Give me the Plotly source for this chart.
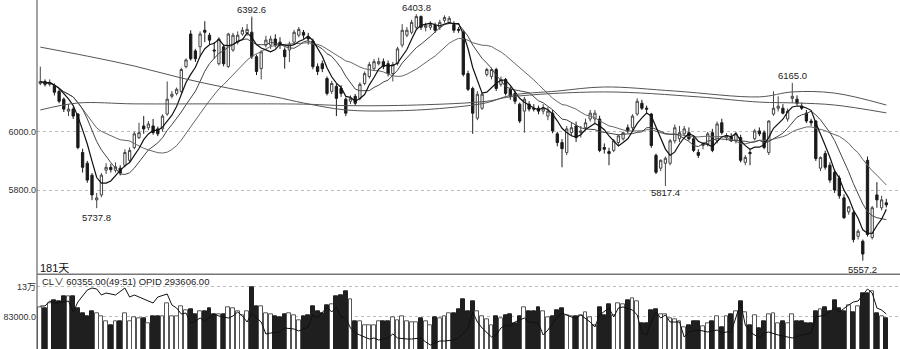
import plotly.graph_objects as go
import pandas as pd

W, H = 900, 349
L_PX = 37

# ---------------- data ----------------
N = 181
idx = list(range(N))

open_ = [6166,6173,6163,6159,6139,6112,6071,6078,6061,5929,5892,5851,5766,5783,5868,5878,5868,5875,5885,5902,
         5946,5980,6020,6014,6020,6010,6010,6061,6122,6132,6139,6224,6336,6278,6292,6349,6332,6281,6234,6292,
         6224,6281,6308,6336,6340,6342,6258,6217,6298,6298,6319,6308,6281,6281,6308,6332,6342,6325,6312,6224,
         6234,6183,6139,6156,6149,6112,6105,6122,6115,6166,6190,6217,6234,6241,6234,6200,6234,6298,6332,6342,
         6359,6396,6359,6359,6366,6359,6383,6376,6369,6352,6342,6200,6149,6047,6081,6197,6190,6214,6163,6180,
         6146,6132,6095,6071,6095,6081,6081,6071,6054,6064,5993,5963,5929,5997,6020,5997,6014,6044,6044,6044,
         5946,5932,5936,5963,5976,6014,6014,6061,6098,6081,6061,5919,5875,5892,5892,5969,5976,5993,5997,5976,
         5929,5953,5959,5997,5969,6031,5980,5983,5969,5980,5895,5929,5976,6003,5997,5929,6061,6081,6081,6044,
         6115,6112,6088,6064,6037,6037,5875,5925,5885,5861,5841,5773,5725,5722,5641,5624,5902,5637,5783,5739,
         5756]
high  = [6224,6180,6180,6166,6146,6118,6095,6085,6064,5942,5900,5858,5790,5858,5892,5890,5895,5885,5940,5946,
         6000,6031,6054,6037,6044,6018,6060,6173,6140,6152,6220,6252,6349,6285,6345,6380,6340,6308,6325,6300,
         6340,6340,6345,6360,6370,6392.6,6265,6280,6330,6330,6335,6325,6290,6310,6350,6360,6350,6340,6320,6235,
         6245,6190,6175,6165,6160,6118,6125,6130,6170,6207,6240,6250,6255,6252,6245,6240,6292,6370,6360,6385,
         6403.8,6400,6375,6380,6375,6385,6400,6398,6380,6360,6350,6210,6155,6140,6135,6220,6220,6220,6190,6185,
         6155,6140,6100,6120,6105,6095,6090,6095,6085,6075,6000,5975,6020,6030,6035,6020,6045,6075,6075,6055,
         5960,5945,5975,5990,6000,6025,6060,6115,6110,6090,6065,5925,5905,5915,5975,6025,6020,6020,6015,5985,
         5940,5965,6000,6010,6035,6045,5995,5995,6000,5990,5920,5940,6010,6015,6005,6040,6139,6122,6095,6080,
         6165,6125,6100,6075,6045,6040,5915,5935,5895,5870,5850,5785,5745,5730,5665,5630,5915,5745,5827,5780,
         5770]
low   = [6160,6156,6156,6125,6098,6068,6054,6044,5940,5860,5825,5765,5737.8,5775,5855,5860,5860,5850,5878,5895,
         5940,5975,5993,6005,5990,5985,6000,6055,6115,6125,6132,6218,6245,6240,6258,6308,6300,6251,6228,6225,
         6220,6275,6300,6330,6330,6250,6195,6180,6290,6285,6290,6285,6217,6240,6300,6325,6320,6300,6215,6195,
         6205,6125,6130,6054,6120,6054,6095,6090,6108,6160,6183,6210,6228,6215,6190,6173,6228,6290,6325,6335,
         6350,6350,6345,6350,6340,6350,6375,6370,6340,6340,6190,6140,5993,6040,6075,6190,6180,6140,6155,6125,
         6110,6095,6030,5997,6070,6070,6060,6060,6040,5995,5950,5878,5920,5985,5965,5980,6005,6035,6030,5930,
         5925,5885,5930,5955,5970,5995,6005,6055,6075,6065,5945,5855,5865,5817.4,5885,5960,5965,5985,5970,5930,
         5910,5940,5950,5930,5960,5990,5970,5965,5960,5895,5885,5885,5970,5985,5940,5920,6055,6070,6060,6035,
         6100,6090,6075,6030,6020,5900,5865,5870,5825,5790,5770,5700,5715,5620,5630,5557.2,5640,5630,5739,5730,
         5740]
close = [6173,6163,6170,6136,6105,6078,6078,6054,5946,5878,5834,5783,5773,5851,5878,5870,5880,5858,5929,5936,
         5993,5997,6010,6027,5997,5993,6054,6112,6129,6146,6214,6247,6251,6251,6336,6342,6315,6278,6319,6234,
         6336,6332,6332,6349,6352,6258,6207,6275,6315,6319,6298,6298,6258,6301,6342,6352,6332,6319,6224,6207,
         6217,6132,6166,6115,6132,6064,6115,6098,6163,6200,6231,6241,6241,6224,6200,6231,6285,6349,6349,6376,
         6396,6359,6366,6369,6349,6376,6393,6390,6349,6349,6197,6146,6064,6129,6129,6214,6214,6149,6180,6132,
         6122,6105,6037,6112,6078,6078,6071,6081,6071,6003,5963,5942,6010,6014,5980,6003,6031,6064,6064,5936,
         5940,5925,5969,5986,5997,6003,6054,6105,6081,6078,5953,5861,5902,5909,5969,6014,5997,6010,5976,5936,
         5919,5959,5993,5936,6027,5997,5986,5969,5993,5902,5912,5925,6003,5993,5946,6037,6081,6088,6064,6071,
         6122,6098,6081,6037,6031,5908,5912,5878,5834,5800,5780,5705,5742,5630,5658,5580,5647,5739,5766,5766,
         5749]

volume = [97100,96200,104000,109200,107600,114300,114300,114300,96200,88300,83000,90800,88300,83000,75200,70000,75200,75200,88300,75200,
          81400,80500,80500,72600,84100,84100,84100,104000,83000,83000,98700,93500,94600,86800,90800,91900,96200,86800,86800,86800,
          97100,96200,90800,85700,90800,128400,99800,99800,88300,86800,83000,81400,86800,88300,85700,77800,84100,85700,99800,90800,
          89000,100500,103000,114300,116800,123300,110700,76300,76300,68900,70000,70000,75200,75200,76300,81400,77800,83000,75200,74100,
          74100,80500,75200,70000,81400,80500,83000,88300,88300,94600,110700,90800,106500,90800,84100,79000,70000,84100,80500,85700,
          86800,72000,84100,97100,90800,90800,97500,90800,81400,83000,93500,96200,85700,83000,83000,85700,90000,81400,70000,97000,
          85700,102400,85700,104000,102400,109200,111800,107000,72600,72600,93500,94600,86800,86800,80500,79000,75200,65800,68900,75200,
          75200,67400,72600,75200,83000,65800,83000,86800,90800,106500,89900,70000,85700,64800,75200,86800,88300,72600,75200,72600,
          86800,75200,75200,72600,72600,90800,94600,97700,90800,109200,96200,90800,101300,89900,99800,119600,119600,122200,88300,83000,
          80500]

# open interest (OPID) line, read at these bar positions
opid_idx = [0,1,2,3,5,6,7,8,10,11,12,13,14,16,18,19,20,22,24,25,27,28,29,30,31,32,33,34,35,37,38,40,41,42,43,44,45,46,47,48,49,51,52,54,55,
            57,58,59,61,62,63,64,65,66,67,68,70,71,72,73,74,75,76,78,79,81,82,83,85,86,88,89,91,92,93,94,96,97,98,99,100,101,103,104,106,107,108,
            110,111,113,114,115,117,118,119,121,122,123,124,126,127,128,129,130,131,132,133,134,136,137,138,140,142,144,145,146,147,149,150,151,
            153,154,155,157,159,160,162,163,164,165,167,169,170,172,173,174,175,176,177,178,179,180]
opid_val = [301600,301600,306600,304600,305600,306600,295600,305600,317600,319600,318600,312600,314600,312600,319600,310600,312600,308600,304600,310600,
            313600,302600,299600,293600,294600,284600,286600,289600,286600,293600,291600,289600,291600,295600,291600,285600,294600,289600,285600,273600,
            274600,275600,279600,278600,276600,
            280600,292600,289600,300600,295600,300600,290600,289600,279600,274600,272600,268600,269600,267600,268600,269600,273600,269600,268600,268600,
            269600,265600,262600,266600,266600,267600,269600,279600,295600,285600,279600,270600,272600,279600,282600,281600,285600,289600,285600,284600,
            272600,277600,
            290600,294600,290600,289600,292600,285600,280600,292600,299600,290600,299600,300600,297600,292600,274600,272600,285600,295600,289600,292600,
            285600,285600,270600,275600,277600,275600,277600,274600,275600,275600,304600,282600,275600,
            269600,274600,275600,272600,270600,269600,272600,273600,274600,290600,292600,299600,295600,302600,305600,306600,312600,318600,314600,299600,
            297600,293606]

# long moving averages, read at these bar positions
ma_a_idx = [0,10,20,30,40,50,56,65,75,85,95,100,110,120,135,153,160,169,180]
ma_a_val = [6291,6260,6226,6185,6150,6120,6099,6075,6072,6080,6100,6125,6140,6154,6140,6120,6137,6133,6092]
ma_b_idx = [0,8,20,40,56,65,80,95,100,120,140,153,161,169,180]
ma_b_val = [6075,6099,6096,6096,6095,6090,6092,6105,6120,6137,6120,6102,6099,6092,6065]

price_ticks = [5800, 6000]
price_tick_text = ["5800.0", "6000.0"]
vol_ticks = [83000, 130000]
vol_tick_text = ["83000.0", "13万"]

highs_marked = [(45, 6392.6, "6392.6", -8), (80, 6403.8, "6403.8", -7), (160, 6165.0, "6165.0", -8)]
lows_marked = [(12, 5737.8, "5737.8", 9), (133, 5817.4, "5817.4", 8), (175, 5557.2, "5557.2", 9)]

# ---------------- figure ----------------
cs = pd.Series(close)
ma5 = cs.rolling(5, min_periods=1).mean()
ma10 = cs.rolling(10, min_periods=1).mean()
ma20 = cs.rolling(20, min_periods=1).mean()

SEP_PX = 274.3
vol_top = (H - SEP_PX) / H

def px_x(px):
    return (px - L_PX) / (W - L_PX)

def px_y(py):
    return (H - py) / H

fig = go.Figure()

fig.add_trace(go.Candlestick(
    x=idx, open=open_, high=high, low=low, close=close,
    increasing=dict(line=dict(color="#444", width=1), fillcolor="#ffffff"),
    decreasing=dict(line=dict(color="#1a1a1a", width=1), fillcolor="#1a1a1a"),
    whiskerwidth=0, showlegend=False, xaxis="x", yaxis="y"))

for series, col, wid in [(ma20, "#666", 1), (ma10, "#444", 1), (ma5, "#111", 1.2)]:
    fig.add_trace(go.Scatter(x=idx, y=series, mode="lines", line=dict(color=col, width=wid),
                             showlegend=False, xaxis="x", yaxis="y", hoverinfo="skip"))
for xs, ys in [(ma_a_idx, ma_a_val), (ma_b_idx, ma_b_val)]:
    fig.add_trace(go.Scatter(x=xs, y=ys, mode="lines", line=dict(color="#555", width=1, shape="spline"),
                             showlegend=False, xaxis="x", yaxis="y", hoverinfo="skip"))

up = [c >= o for o, c in zip(open_, close)]
fig.add_trace(go.Bar(
    x=idx, y=volume, width=0.82,
    marker=dict(color=["#ffffff" if u else "#1f1f1f" for u in up],
                line=dict(color=["#555" if u else "#1f1f1f" for u in up], width=1)),
    showlegend=False, xaxis="x", yaxis="y2"))

fig.add_trace(go.Scatter(x=opid_idx, y=opid_val, mode="lines", line=dict(color="#111", width=1),
                         showlegend=False, xaxis="x", yaxis="y3", hoverinfo="skip"))

font_fam = "Liberation Sans, Arial, Noto Sans CJK SC, sans-serif"

fig.update_layout(
    width=W, height=H, margin=dict(l=L_PX, r=0, t=0, b=0),
    paper_bgcolor="white", plot_bgcolor="white",
    font=dict(family=font_fam, size=9, color="#333"),
    bargap=0,
    xaxis=dict(range=[(L_PX - 40.3) / 4.7, (W - 40.3) / 4.7], showgrid=False, zeroline=False,
               showticklabels=False, ticks="", rangeslider=dict(visible=False), fixedrange=True),
    yaxis=dict(domain=[vol_top, 1], range=[5510.3, 6452.9], tickvals=price_ticks, ticktext=price_tick_text,
               showgrid=True, gridcolor="#bbb", griddash="dot", gridwidth=1, zeroline=False,
               ticks="", tickfont=dict(size=9, color="#333")),
    yaxis2=dict(domain=[0, vol_top], range=[32390, 149430], tickvals=vol_ticks, ticktext=vol_tick_text,
                showgrid=True, gridcolor="#bbb", griddash="dot", gridwidth=1, zeroline=False,
                ticks="", tickfont=dict(size=9, color="#333")),
    yaxis3=dict(domain=[0, vol_top], overlaying="y2", range=[258606, 333306], visible=False),
)

# frame lines: left axis and panel separator
fig.add_shape(type="line", xref="paper", yref="paper", x0=0, x1=0, y0=0, y1=1,
              line=dict(color="#666", width=1.2))
fig.add_shape(type="line", xref="paper", yref="paper", x0=0, x1=1, y0=vol_top, y1=vol_top,
              line=dict(color="#777", width=1.5))

for i, v, t, off in highs_marked + lows_marked:
    fig.add_annotation(x=i, y=v, xref="x", yref="y", text=t, showarrow=True, arrowhead=0,
                       arrowwidth=1, arrowcolor="#333", ax=0, ay=off,
                       font=dict(size=9.5, color="#222"))

fig.add_annotation(x=px_x(38), y=px_y(268), xref="paper", yref="paper", text="181天",
                   showarrow=False, xanchor="left", yanchor="middle",
                   font=dict(size=11, color="#111"))
fig.add_annotation(x=px_x(40), y=px_y(281.5), xref="paper", yref="paper",
                   text="CL∨ 60355.00(49:51) OPID 293606.00",
                   showarrow=False, xanchor="left", yanchor="middle",
                   font=dict(size=9.5, color="#222"))

fig.write_html("out.html")
